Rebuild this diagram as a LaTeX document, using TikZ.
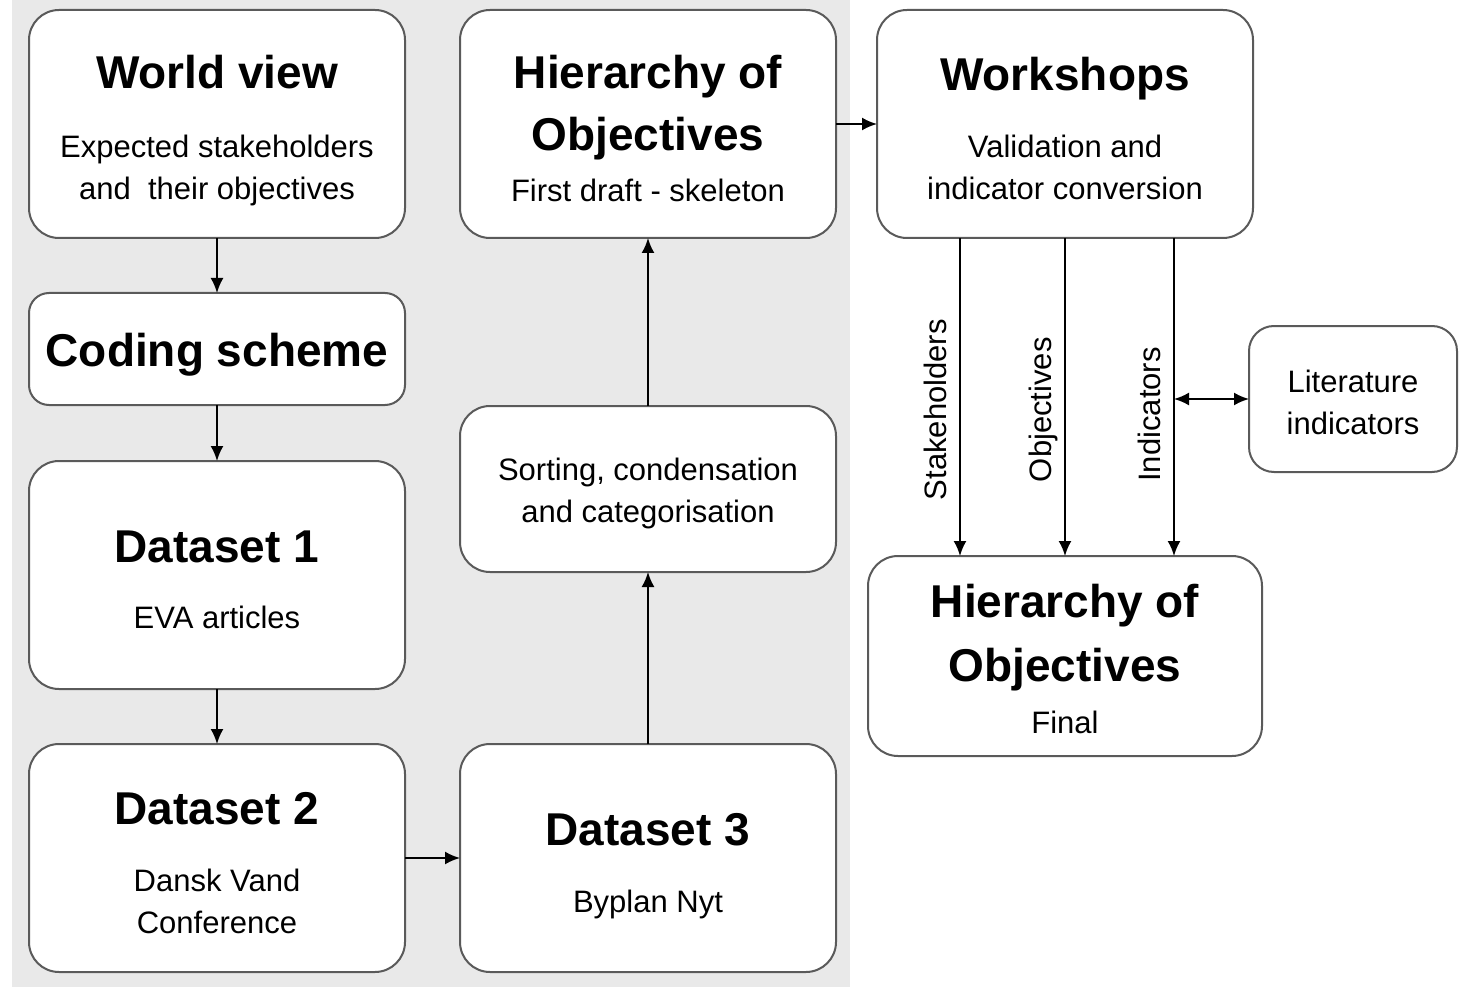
\documentclass[tikz,border=0pt]{standalone}
\usepackage{fontspec}
\setmainfont{Liberation Sans}
\usetikzlibrary{positioning,arrows.meta}
\definecolor{bggray}{HTML}{E9E9E9}
\definecolor{edgegray}{HTML}{5A5A5A}
\newcommand{\headfont}{\fontsize{46}{62}\selectfont\bfseries}
\newcommand{\bodyfont}{\fontsize{31}{42}\selectfont}
% strut that pushes the text block down a little
\newcommand{\topgap}[1]{\rule{0pt}{#1}}
\tikzset{%
  stage/.style={
    draw=edgegray,
    line width=2pt,
    fill=white,
    rounded corners=30pt,
    minimum width=376pt,
    minimum height=228pt,
    align=center,
    font=\bodyfont,
    inner sep=0pt,
    outer sep=0pt
  },
  flow label/.style={
    rotate=90,
    anchor=south,
    font=\bodyfont,
    text depth=0pt,
    inner sep=13pt
  },
}

\begin{document}
\begin{tikzpicture}[x=1pt,y=-1pt,>={Latex[length=15pt,width=13pt]},line width=2pt]
        \useasboundingbox (0,0) rectangle (1460,987);
        \fill[bggray] (12,0) rectangle (850,987);

        \node[stage] (world) at (217,124) {\topgap{45.5pt}{\headfont World view}\\[27pt]Expected stakeholders\\and~ their objectives};
        \node[stage,minimum height=112pt,rounded corners=20pt,below=55pt of world] (coding) {\topgap{44.5pt}{\headfont Coding scheme}};
        \node[stage,below=56pt of coding] (data1) {\topgap{41.5pt}{\headfont Dataset 1}\\[24pt]EVA articles};
        \node[stage,below=55pt of data1] (data2) {\topgap{41.5pt}{\headfont Dataset 2}\\[25pt]Dansk Vand\\Conference};
        \node[stage,right=55pt of data2] (data3) {\topgap{47.5pt}{\headfont Dataset 3}\\[25pt]Byplan Nyt};
        \node[stage,minimum height=166pt,above=172pt of data3] (sorting) {\topgap{31.5pt}Sorting, condensation\\and categorisation};
        \node[stage,above=168pt of sorting] (draft) {\topgap{42.5pt}{\headfont Hierarchy of}\\[18pt]{\headfont Objectives}\\[9pt]First draft - skeleton};
        \node[stage,right=41pt of draft] (workshops) {\topgap{41.5pt}{\headfont Workshops}\\[25pt]Validation and\\indicator conversion};
        \node[stage,minimum width=394pt,minimum height=200pt,below=318pt of workshops] (final) {\topgap{39.5pt}{\headfont Hierarchy of}\\[20pt]{\headfont Objectives}\\[10pt]Final};
        \node[stage,minimum width=208pt,minimum height=146pt,rounded corners=25pt] (literature) at (1353,399) {\topgap{28.5pt}Literature\\indicators};

        \coordinate (stake) at ([xshift=-105pt]workshops.south);
        \coordinate (obj) at (workshops.south);
        \coordinate (ind) at ([xshift=109pt]workshops.south);

        \draw[->] (world.south) -- (world.south |- coding.north);
        \draw[->] (coding.south) -- (coding.south |- data1.north);
        \draw[->] (data1) -- (data2);
        \draw[->] (data2) -- (data3);
        \draw[->] (data3) -- (sorting);
        \draw[->] (sorting) -- (draft);
        \draw[->] (draft.east) -- (draft.east -| workshops.west);
        \draw[->] (stake) -- node[flow label,pos=0.54] {Stakeholders} (stake |- final.north);
        \draw[->] (obj) -- node[flow label,pos=0.54] {Objectives} (obj |- final.north);
        \draw[->] (ind) -- node[flow label,pos=0.555] {Indicators} (ind |- final.north);
        \draw[<->] (literature.west -| ind) -- (literature.west);
    \end{tikzpicture}
\end{document}
